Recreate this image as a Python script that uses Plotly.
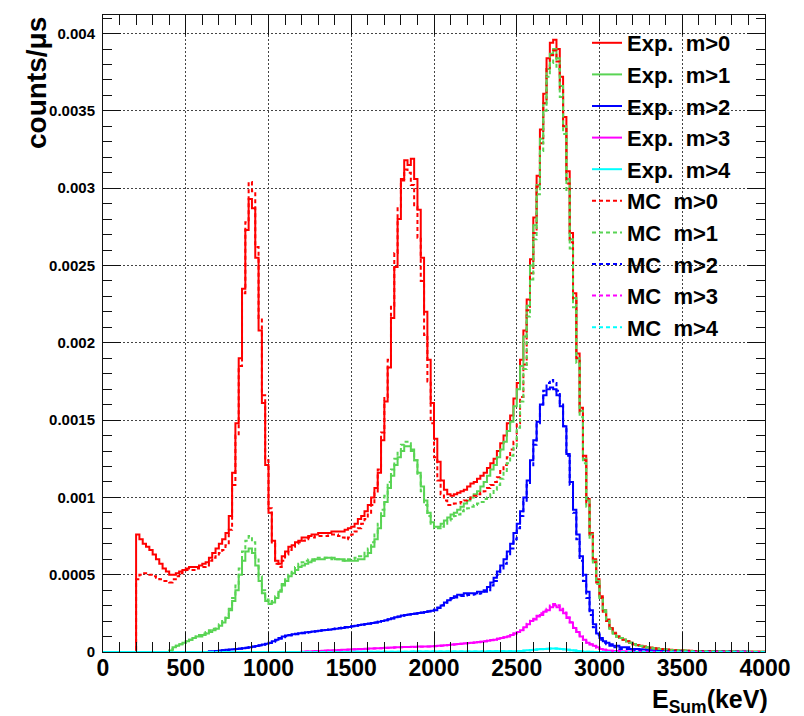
import plotly.graph_objects as go

# ---------------- data (counts/us per 20 keV bin, 0..4000 keV) ----------------
BIN_WIDTH_KEV = 20
N_BINS = 200

exp_m0 = [
    0, 0, 0, 0, 0, 0, 0, 0, 0, 0,
    0.00076, 0.00073, 0.00070, 0.00068, 0.00066, 0.00063, 0.00060, 0.00057, 0.00054, 0.00052,
    0.00050, 0.00050, 0.00051, 0.00052, 0.00053, 0.00054, 0.00055, 0.00055, 0.00055, 0.00056,
    0.00057, 0.00058, 0.00061, 0.00064, 0.00067, 0.00070, 0.00073, 0.00077, 0.00088, 0.00116,
    0.00148, 0.00190, 0.00235, 0.00273, 0.00293, 0.00287, 0.00255, 0.00208, 0.00161, 0.00121,
    0.00090, 0.00072, 0.00059, 0.00057, 0.00062, 0.00065, 0.00068, 0.00069, 0.00071, 0.00072,
    0.00074, 0.00074, 0.00075, 0.00076, 0.00076, 0.00077, 0.00077, 0.00077, 0.00077, 0.00078,
    0.00078, 0.00078, 0.00078, 0.00079, 0.00080, 0.00081, 0.00083, 0.00086, 0.00088, 0.00091,
    0.00095, 0.00100, 0.00106, 0.00116, 0.00137, 0.00162, 0.00184, 0.00216, 0.00249, 0.00280,
    0.00306, 0.00318, 0.00315, 0.00319, 0.00306, 0.00286, 0.00255, 0.00220, 0.00189, 0.00161,
    0.00138, 0.00123, 0.00111, 0.00105, 0.00102, 0.00101, 0.00102, 0.00103, 0.00104, 0.00105,
    0.00107, 0.00109, 0.00110, 0.00112, 0.00114, 0.00116, 0.00119, 0.00122, 0.00125, 0.00130,
    0.00135, 0.00140, 0.00148, 0.00153, 0.00164, 0.00174, 0.00189, 0.00208, 0.00228, 0.00254,
    0.00281, 0.00308, 0.00338, 0.00361, 0.00384, 0.00394, 0.00396, 0.00390, 0.00372, 0.00346,
    0.00311, 0.00271, 0.00232, 0.00193, 0.00158, 0.00127, 0.00099, 0.00077, 0.00060, 0.00047,
    0.00036, 0.00027, 0.00021, 0.000155, 0.000125, 0.00010, 0.00009, 0.00008, 0.00007, 0.00006,
    0.00005, 0.000045, 0.00004, 0.000035, 0.00003, 0.000028, 0.000025, 0.000022, 0.00002, 0.000018,
    0.000016, 0.000014, 0.000012, 0.000011, 0.00001, 0.000009, 0.000008, 0.000008, 0.000007, 0.000007,
    0.000006, 0.000006, 0.000005, 0.000005, 0.000005, 0.000004, 0.000004, 0.000004, 0.000003, 0.000003,
    0.000003, 0.000003, 0.000002, 0.000002, 0.000002, 0.000002, 0.000002, 0.000001, 0.000001, 0.000001,
]

exp_m1 = [
    0, 0, 0, 0, 0, 0, 0, 0, 0, 0,
    0, 0, 0, 0, 0, 0, 0, 0, 0, 0,
    0.00001, 0.00003, 0.00004, 0.00005, 0.00006, 0.00007, 0.00008, 0.00009, 0.00010, 0.00010,
    0.00011, 0.00012, 0.00013, 0.00014, 0.00015, 0.00017, 0.00019, 0.00022, 0.00027, 0.00033,
    0.00040, 0.00050, 0.00059, 0.00065, 0.00067, 0.00064, 0.00056, 0.00046, 0.00038, 0.00033,
    0.00031, 0.00032, 0.00035, 0.00039, 0.00043, 0.00046, 0.00049, 0.00051, 0.00053, 0.00055,
    0.00056, 0.00057, 0.00058, 0.00059, 0.00060, 0.00060, 0.00060, 0.00061, 0.00061, 0.00061,
    0.00060, 0.00060, 0.00060, 0.00059, 0.00059, 0.00059, 0.00059, 0.00060, 0.00060, 0.00062,
    0.00064, 0.00068, 0.00073, 0.00080, 0.00088, 0.00097, 0.00106, 0.00114, 0.00121, 0.00126,
    0.00130, 0.00133, 0.00133, 0.00130, 0.00124, 0.00116, 0.00107, 0.00098, 0.00090, 0.00084,
    0.00081, 0.00081, 0.00083, 0.00085, 0.00087, 0.00089, 0.00090, 0.00092, 0.00094, 0.00096,
    0.00098, 0.00100, 0.00102, 0.00104, 0.00107, 0.00110, 0.00114, 0.00118, 0.00121, 0.00126,
    0.00131, 0.00136, 0.00143, 0.00149, 0.00159, 0.00170, 0.00185, 0.00204, 0.00224, 0.00250,
    0.00276, 0.00302, 0.00332, 0.00355, 0.00377, 0.00387, 0.00390, 0.00384, 0.00366, 0.00340,
    0.00306, 0.00267, 0.00229, 0.00190, 0.00156, 0.00125, 0.00098, 0.00076, 0.00059, 0.00046,
    0.00035, 0.00027, 0.00020, 0.00015, 0.00012, 0.00010, 0.00009, 0.00008, 0.00007, 0.00006,
    0.00005, 0.000044, 0.000039, 0.000034, 0.00003, 0.000027, 0.000024, 0.000021, 0.000019, 0.000017,
    0.000015, 0.000013, 0.000012, 0.000011, 0.00001, 0.000009, 0.000008, 0.000007, 0.000007, 0.000006,
    0.000006, 0.000005, 0.000005, 0.000005, 0.000004, 0.000004, 0.000004, 0.000003, 0.000003, 0.000003,
    0.000003, 0.000002, 0.000002, 0.000002, 0.000002, 0.000002, 0.000001, 0.000001, 0.000001, 0.000001,
]

exp_m2 = [
    0, 0, 0, 0, 0, 0, 0, 0, 0, 0,
    0, 0, 0, 0, 0, 0, 0, 0, 0, 0,
    0, 0, 0, 0, 0, 0, 0, 0, 0, 0,
    0, 0, 0.000003, 0.000005, 0.000007, 0.00001, 0.000012, 0.000014, 0.000016, 0.000018,
    0.00002, 0.000022, 0.000025, 0.000028, 0.000031, 0.000035, 0.000039, 0.000043, 0.000048, 0.000053,
    0.00006, 0.00007, 0.00008, 0.00009, 0.0001, 0.000106, 0.00011, 0.000114, 0.000118, 0.000121,
    0.000124, 0.000127, 0.00013, 0.000133, 0.000135, 0.000138, 0.00014, 0.000142, 0.000144, 0.000147,
    0.00015, 0.000152, 0.000155, 0.000158, 0.000162, 0.000166, 0.00017, 0.000174, 0.000178, 0.000181,
    0.000184, 0.000187, 0.00019, 0.000195, 0.0002, 0.000206, 0.000212, 0.000218, 0.000224, 0.00023,
    0.000236, 0.00024, 0.000243, 0.000246, 0.000249, 0.000252, 0.000255, 0.000258, 0.000262, 0.000266,
    0.00027, 0.000285, 0.0003, 0.00032, 0.000335, 0.00035, 0.00036, 0.00037, 0.00037, 0.00038,
    0.00038, 0.00038, 0.00038, 0.00039, 0.00039, 0.0004, 0.00042, 0.00045, 0.00048, 0.00052,
    0.00056, 0.0006, 0.00065, 0.0007, 0.00077, 0.00083, 0.00091, 0.001, 0.00111, 0.00124,
    0.00137, 0.00149, 0.0016, 0.00166, 0.0017, 0.00171, 0.0017, 0.00166, 0.00159, 0.00146,
    0.00128, 0.0011, 0.00092, 0.00076, 0.00062, 0.0005, 0.00039, 0.00027, 0.00018, 0.00012,
    0.00009, 0.00007, 0.00006, 0.00005, 0.00004, 0.00004, 0.00003, 0.00003, 0.00003, 0.00002,
    0.00002, 0.00002, 0.000018, 0.000016, 0.000014, 0.000012, 0.00001, 0.000009, 0.000008, 0.000007,
    0.000006, 0.000006, 0.000005, 0.000005, 0.000004, 0.000004, 0.000004, 0.000003, 0.000003, 0.000003,
    0.000002, 0.000002, 0.000002, 0.000002, 0.000002, 0.000001, 0.000001, 0.000001, 0.000001, 0.000001,
    0.000001, 0.000001, 0.000001, 0.000001, 0.000001, 0, 0, 0, 0, 0,
]

exp_m3 = [
    0, 0, 0, 0, 0, 0, 0, 0, 0, 0,
    0, 0, 0, 0, 0, 0, 0, 0, 0, 0,
    0, 0, 0, 0, 0, 0, 0, 0, 0, 0,
    0, 0, 0, 0, 0, 0, 0, 0, 0, 0,
    0, 0, 0, 0, 0, 0, 0, 0, 0, 0,
    0, 0, 0, 0, 0, 0, 0, 0, 0, 0,
    0.000002, 0.000003, 0.000004, 0.000005, 0.000006, 0.000007, 0.000008, 0.000009, 0.00001, 0.000011,
    0.000012, 0.000013, 0.000014, 0.000015, 0.000016, 0.000017, 0.000018, 0.000019, 0.00002, 0.000021,
    0.000022, 0.000023, 0.000024, 0.000025, 0.000026, 0.000027, 0.000028, 0.000029, 0.00003, 0.000031,
    0.000032, 0.000033, 0.000033, 0.000034, 0.000034, 0.000035, 0.000035, 0.000036, 0.000036, 0.000037,
    0.000038, 0.00004, 0.000042, 0.000044, 0.000046, 0.000048, 0.00005, 0.000052, 0.000054, 0.000056,
    0.000058, 0.00006, 0.000062, 0.000064, 0.000067, 0.00007, 0.000073, 0.000077, 0.00008, 0.000085,
    0.00009, 0.000095, 0.0001, 0.00011, 0.00012, 0.00013, 0.00014, 0.00016, 0.00018, 0.0002,
    0.00021, 0.00023, 0.00024, 0.00026, 0.00027, 0.00029, 0.0003, 0.00029, 0.00027, 0.00025,
    0.00022, 0.00019, 0.000155, 0.00013, 0.0001, 0.00008, 0.00006, 0.00005, 0.00004, 0.00003,
    0.00002, 0.000015, 0.00001, 0.000008, 0.000007, 0.000006, 0.000005, 0.000004, 0.000003, 0.000003,
    0.000002, 0.000002, 0.000002, 0.000001, 0.000001, 0.000001, 0.000001, 0, 0, 0,
    0, 0, 0, 0, 0, 0, 0, 0, 0, 0,
    0, 0, 0, 0, 0, 0, 0, 0, 0, 0,
    0, 0, 0, 0, 0, 0, 0, 0, 0, 0,
]

exp_m4 = [
    0, 0, 0, 0, 0, 0, 0, 0, 0, 0,
    0, 0, 0, 0, 0, 0, 0, 0, 0, 0,
    0, 0, 0, 0, 0, 0, 0, 0, 0, 0,
    0, 0, 0, 0, 0, 0, 0, 0, 0, 0,
    0, 0, 0, 0, 0, 0, 0, 0, 0, 0,
    0, 0, 0, 0, 0, 0, 0, 0, 0, 0,
    0, 0, 0, 0, 0, 0, 0, 0, 0, 0,
    0, 0, 0, 0, 0, 0.000001, 0.000001, 0.000001, 0.000001, 0.000001,
    0.000001, 0.000001, 0.000002, 0.000002, 0.000002, 0.000002, 0.000002, 0.000002, 0.000002, 0.000002,
    0.000002, 0.000002, 0.000002, 0.000003, 0.000003, 0.000003, 0.000003, 0.000003, 0.000003, 0.000003,
    0.000003, 0.000003, 0.000003, 0.000003, 0.000003, 0.000003, 0.000004, 0.000004, 0.000004, 0.000004,
    0.000004, 0.000004, 0.000004, 0.000004, 0.000004, 0.000004, 0.000005, 0.000005, 0.000005, 0.000005,
    0.000005, 0.000005, 0.000005, 0.000005, 0.000005, 0.000005, 0.000007, 0.000009, 0.000011, 0.000013,
    0.000015, 0.000017, 0.000019, 0.00002, 0.000021, 0.000022, 0.000022, 0.000021, 0.00002, 0.000018,
    0.000015, 0.000012, 0.000009, 0.000006, 0.000004, 0.000002, 0.000001, 0.000001, 0, 0,
    0, 0, 0, 0, 0, 0, 0, 0, 0, 0,
    0, 0, 0, 0, 0, 0, 0, 0, 0, 0,
    0, 0, 0, 0, 0, 0, 0, 0, 0, 0,
    0, 0, 0, 0, 0, 0, 0, 0, 0, 0,
    0, 0, 0, 0, 0, 0, 0, 0, 0, 0,
]

mc_m0 = [
    0, 0, 0, 0, 0, 0, 0, 0, 0, 0,
    0.00047, 0.00050, 0.00051, 0.00051, 0.00050, 0.00049, 0.00048, 0.00047, 0.00046, 0.00046,
    0.00045, 0.00047, 0.00049, 0.00051, 0.00052, 0.00053, 0.00053, 0.00053, 0.00054, 0.00055,
    0.00055, 0.00056, 0.00059, 0.00061, 0.00062, 0.00064, 0.00066, 0.00069, 0.00079, 0.00108,
    0.00140, 0.00185, 0.00232, 0.00278, 0.00304, 0.00298, 0.00262, 0.00216, 0.00166, 0.00124,
    0.00093, 0.00070, 0.00057, 0.00055, 0.00059, 0.00063, 0.00066, 0.00068, 0.00070, 0.00071,
    0.00072, 0.00073, 0.00074, 0.00074, 0.00075, 0.00075, 0.00075, 0.00075, 0.00076, 0.00076,
    0.00076, 0.00075, 0.00074, 0.00073, 0.00074, 0.00076, 0.00078, 0.00080, 0.00083, 0.00086,
    0.00090, 0.00095, 0.00103, 0.00118, 0.00142, 0.00165, 0.00189, 0.00224, 0.00258, 0.00288,
    0.00305, 0.00312, 0.00310, 0.00302, 0.00288, 0.00268, 0.00240, 0.00205, 0.00175, 0.00148,
    0.00126, 0.00111, 0.00102, 0.00098, 0.00095, 0.00095, 0.00096, 0.00096, 0.00097, 0.00098,
    0.00099, 0.00100, 0.00101, 0.00102, 0.00103, 0.00104, 0.00106, 0.00108, 0.00110, 0.00113,
    0.00117, 0.00121, 0.00126, 0.00131, 0.00136, 0.00148, 0.00165, 0.00186, 0.00221, 0.00245,
    0.00271, 0.00301, 0.00329, 0.00355, 0.00377, 0.00386, 0.00389, 0.00382, 0.00364, 0.00340,
    0.00303, 0.00265, 0.00227, 0.00190, 0.00155, 0.00124, 0.00096, 0.00075, 0.00058, 0.00045,
    0.00035, 0.00026, 0.00020, 0.00015, 0.00012, 0.00010, 0.00009, 0.00008, 0.00007, 0.00006,
    0.00005, 0.000044, 0.000039, 0.000034, 0.00003, 0.000027, 0.000024, 0.000021, 0.000019, 0.000017,
    0.000015, 0.000013, 0.000012, 0.000011, 0.00001, 0.000009, 0.000008, 0.000007, 0.000007, 0.000006,
    0.000006, 0.000005, 0.000005, 0.000005, 0.000004, 0.000004, 0.000004, 0.000003, 0.000003, 0.000003,
    0.000003, 0.000002, 0.000002, 0.000002, 0.000002, 0.000002, 0.000001, 0.000001, 0.000001, 0.000001,
]

mc_m1 = [
    0, 0, 0, 0, 0, 0, 0, 0, 0, 0,
    0, 0, 0, 0, 0, 0, 0, 0, 0, 0,
    0.00001, 0.00002, 0.00004, 0.00005, 0.00006, 0.00007, 0.00008, 0.00009, 0.00010, 0.00011,
    0.00012, 0.00013, 0.00014, 0.00015, 0.00016, 0.00018, 0.00020, 0.00023, 0.00028, 0.00035,
    0.00043, 0.00054, 0.00065, 0.00072, 0.00075, 0.00071, 0.00061, 0.00049, 0.00040, 0.00034,
    0.00032, 0.00033, 0.00036, 0.00040, 0.00044, 0.00047, 0.00050, 0.00053, 0.00055, 0.00057,
    0.00058, 0.00059, 0.00060, 0.00060, 0.00061, 0.00061, 0.00061, 0.00061, 0.00061, 0.00060,
    0.00060, 0.00060, 0.00059, 0.00059, 0.00060, 0.00060, 0.00061, 0.00062, 0.00063, 0.00065,
    0.00067, 0.00071, 0.00076, 0.00083, 0.00092, 0.00101, 0.00110, 0.00118, 0.00125, 0.00130,
    0.00134, 0.00136, 0.00135, 0.00131, 0.00124, 0.00114, 0.00104, 0.00095, 0.00088, 0.00083,
    0.00080, 0.00080, 0.00081, 0.00083, 0.00085, 0.00086, 0.00088, 0.00089, 0.00091, 0.00092,
    0.00093, 0.00094, 0.00095, 0.00096, 0.00097, 0.00099, 0.00100, 0.00102, 0.00105, 0.00108,
    0.00112, 0.00117, 0.00122, 0.00127, 0.00133, 0.00145, 0.00162, 0.00183, 0.00217, 0.00241,
    0.00267, 0.00296, 0.00324, 0.00350, 0.00372, 0.00381, 0.00384, 0.00377, 0.00359, 0.00335,
    0.00298, 0.00261, 0.00223, 0.00187, 0.00152, 0.00122, 0.00094, 0.00073, 0.00057, 0.00044,
    0.00034, 0.00026, 0.00020, 0.00015, 0.00012, 0.00010, 0.00009, 0.00008, 0.00007, 0.00006,
    0.00005, 0.000043, 0.000038, 0.000033, 0.000029, 0.000026, 0.000023, 0.000021, 0.000019, 0.000017,
    0.000015, 0.000013, 0.000012, 0.000011, 0.00001, 0.000009, 0.000008, 0.000007, 0.000007, 0.000006,
    0.000006, 0.000005, 0.000005, 0.000005, 0.000004, 0.000004, 0.000004, 0.000003, 0.000003, 0.000003,
    0.000003, 0.000002, 0.000002, 0.000002, 0.000002, 0.000002, 0.000001, 0.000001, 0.000001, 0.000001,
]

mc_m2 = [
    0, 0, 0, 0, 0, 0, 0, 0, 0, 0,
    0, 0, 0, 0, 0, 0, 0, 0, 0, 0,
    0, 0, 0, 0, 0, 0, 0, 0, 0, 0,
    0, 0, 0.000003, 0.000005, 0.000007, 0.000009, 0.000011, 0.000013, 0.000015, 0.000017,
    0.000019, 0.000021, 0.000024, 0.000027, 0.00003, 0.000034, 0.000038, 0.000042, 0.000047, 0.000052,
    0.000058, 0.000066, 0.000075, 0.000085, 0.000095, 0.000102, 0.000107, 0.000111, 0.000115, 0.000119,
    0.000122, 0.000125, 0.000128, 0.000131, 0.000134, 0.000137, 0.00014, 0.000143, 0.000146, 0.000149,
    0.000152, 0.000155, 0.000158, 0.000161, 0.000164, 0.000167, 0.00017, 0.000173, 0.000176, 0.000179,
    0.000182, 0.000186, 0.00019, 0.000195, 0.0002, 0.000205, 0.00021, 0.000216, 0.000222, 0.000228,
    0.000234, 0.000238, 0.000242, 0.000245, 0.000248, 0.000251, 0.000254, 0.000258, 0.000263, 0.000268,
    0.000275, 0.000288, 0.000302, 0.000318, 0.000332, 0.000345, 0.000352, 0.000358, 0.000362, 0.000365,
    0.000368, 0.00037, 0.000373, 0.000377, 0.00038, 0.00039, 0.0004, 0.00043, 0.00046, 0.0005,
    0.00053, 0.00057, 0.00062, 0.00067, 0.00073, 0.0008, 0.00088, 0.00097, 0.00108, 0.0012,
    0.00134, 0.00148, 0.0016, 0.00169, 0.00174, 0.00176, 0.00174, 0.00169, 0.0016, 0.00146,
    0.00127, 0.00108, 0.0009, 0.00073, 0.00059, 0.00046, 0.00035, 0.00024, 0.00016, 0.00011,
    0.00008, 0.00006, 0.00005, 0.00004, 0.00003, 0.00003, 0.00002, 0.00002, 0.00002, 0.000015,
    0.000012, 0.00001, 0.000009, 0.000008, 0.000007, 0.000006, 0.000006, 0.000005, 0.000005, 0.000004,
    0.000004, 0.000004, 0.000003, 0.000003, 0.000003, 0.000003, 0.000002, 0.000002, 0.000002, 0.000002,
    0.000002, 0.000002, 0.000001, 0.000001, 0.000001, 0.000001, 0.000001, 0.000001, 0.000001, 0.000001,
    0.000001, 0.000001, 0.000001, 0.000001, 0, 0, 0, 0, 0, 0,
]

mc_m3 = [
    0, 0, 0, 0, 0, 0, 0, 0, 0, 0,
    0, 0, 0, 0, 0, 0, 0, 0, 0, 0,
    0, 0, 0, 0, 0, 0, 0, 0, 0, 0,
    0, 0, 0, 0, 0, 0, 0, 0, 0, 0,
    0, 0, 0, 0, 0, 0, 0, 0, 0, 0,
    0, 0, 0, 0, 0, 0, 0, 0, 0, 0,
    0.000002, 0.000003, 0.000004, 0.000004, 0.000005, 0.000006, 0.000007, 0.000008, 0.000009, 0.00001,
    0.000011, 0.000012, 0.000013, 0.000014, 0.000015, 0.000016, 0.000017, 0.000018, 0.000019, 0.00002,
    0.000021, 0.000022, 0.000023, 0.000024, 0.000025, 0.000026, 0.000027, 0.000028, 0.000029, 0.00003,
    0.000031, 0.000032, 0.000032, 0.000033, 0.000033, 0.000034, 0.000034, 0.000035, 0.000035, 0.000036,
    0.000037, 0.000039, 0.000041, 0.000043, 0.000045, 0.000047, 0.000049, 0.000051, 0.000053, 0.000055,
    0.000057, 0.000059, 0.000061, 0.000063, 0.000066, 0.000069, 0.000072, 0.000076, 0.00008, 0.000085,
    0.00009, 0.000096, 0.000102, 0.00011, 0.00012, 0.00013, 0.000142, 0.000162, 0.000182, 0.000202,
    0.000215, 0.000235, 0.00025, 0.000268, 0.00028, 0.0003, 0.00031, 0.000302, 0.00028, 0.000256,
    0.000225, 0.000192, 0.000158, 0.00013, 0.0001, 0.00008, 0.00006, 0.000048, 0.000038, 0.000028,
    0.00002, 0.000014, 0.00001, 0.000008, 0.000007, 0.000006, 0.000005, 0.000004, 0.000003, 0.000003,
    0.000002, 0.000002, 0.000002, 0.000001, 0.000001, 0.000001, 0.000001, 0, 0, 0,
    0, 0, 0, 0, 0, 0, 0, 0, 0, 0,
    0, 0, 0, 0, 0, 0, 0, 0, 0, 0,
    0, 0, 0, 0, 0, 0, 0, 0, 0, 0,
]

mc_m4 = [
    0, 0, 0, 0, 0, 0, 0, 0, 0, 0,
    0, 0, 0, 0, 0, 0, 0, 0, 0, 0,
    0, 0, 0, 0, 0, 0, 0, 0, 0, 0,
    0, 0, 0, 0, 0, 0, 0, 0, 0, 0,
    0, 0, 0, 0, 0, 0, 0, 0, 0, 0,
    0, 0, 0, 0, 0, 0, 0, 0, 0, 0,
    0, 0, 0, 0, 0, 0, 0, 0, 0, 0,
    0, 0, 0, 0, 0, 0.000001, 0.000001, 0.000001, 0.000001, 0.000001,
    0.000001, 0.000001, 0.000001, 0.000002, 0.000002, 0.000002, 0.000002, 0.000002, 0.000002, 0.000002,
    0.000002, 0.000002, 0.000002, 0.000002, 0.000003, 0.000003, 0.000003, 0.000003, 0.000003, 0.000003,
    0.000003, 0.000003, 0.000003, 0.000003, 0.000003, 0.000003, 0.000003, 0.000004, 0.000004, 0.000004,
    0.000004, 0.000004, 0.000004, 0.000004, 0.000004, 0.000004, 0.000004, 0.000005, 0.000005, 0.000005,
    0.000005, 0.000005, 0.000005, 0.000005, 0.000005, 0.000005, 0.000006, 0.000008, 0.00001, 0.000012,
    0.000014, 0.000016, 0.000018, 0.00002, 0.000021, 0.000022, 0.000023, 0.000022, 0.00002, 0.000018,
    0.000015, 0.000012, 0.000009, 0.000006, 0.000004, 0.000002, 0.000001, 0.000001, 0, 0,
    0, 0, 0, 0, 0, 0, 0, 0, 0, 0,
    0, 0, 0, 0, 0, 0, 0, 0, 0, 0,
    0, 0, 0, 0, 0, 0, 0, 0, 0, 0,
    0, 0, 0, 0, 0, 0, 0, 0, 0, 0,
    0, 0, 0, 0, 0, 0, 0, 0, 0, 0,
]

series_names = ["Exp.\u00a0\u00a0m>0", "Exp.\u00a0\u00a0m>1", "Exp.\u00a0\u00a0m>2",
                "Exp.\u00a0\u00a0m>3", "Exp.\u00a0\u00a0m>4",
                "MC\u00a0\u00a0m>0", "MC\u00a0\u00a0m>1", "MC\u00a0\u00a0m>2",
                "MC\u00a0\u00a0m>3", "MC\u00a0\u00a0m>4"]
series_values = [exp_m0, exp_m1, exp_m2, exp_m3, exp_m4,
                 mc_m0, mc_m1, mc_m2, mc_m3, mc_m4]

x_tick_vals = [0, 500, 1000, 1500, 2000, 2500, 3000, 3500, 4000]
x_tick_text = ["0", "500", "1000", "1500", "2000", "2500", "3000", "3500", "4000"]
y_tick_vals = [0, 0.0005, 0.001, 0.0015, 0.002, 0.0025, 0.003, 0.0035, 0.004]
y_tick_text = ["0", "0.0005", "0.001", "0.0015", "0.002", "0.0025", "0.003", "0.0035", "0.004"]

# ---------------- styling ----------------
COLORS = ["#ff0000", "#59d454", "#0000ff", "#ff00ff", "#00ffff"]
FONT = "Liberation Sans, Arial, Helvetica, sans-serif"

# the page body adds an 8 px offset, so the figure is 8 px smaller than the window
W, H = 796, 708
ML, MR, MT, MB = 95, 39, 7, 64
PW = W - ML - MR
PH = H - MT - MB
BOTTOM = H - MB

edges = [BIN_WIDTH_KEV * i for i in range(N_BINS + 1)]

fig = go.Figure()
for k, (name, vals) in enumerate(zip(series_names, series_values)):
    color = COLORS[k % 5]
    is_mc = k >= 5
    fig.add_trace(go.Scatter(
        x=edges,
        y=list(vals) + [vals[-1]],
        mode="lines",
        line=dict(shape="hv", color=color, width=2,
                  dash="4px,3px" if is_mc else "solid"),
        name=name,
        hoverinfo="skip",
    ))

axis_common = dict(
    showline=True, linecolor="#111", linewidth=1,
    mirror="allticks", ticks="inside", tickcolor="#111", tickwidth=1,
    showgrid=True, gridcolor="#444", gridwidth=1, griddash="2px,2px",
    zeroline=False,
)

fig.update_layout(
    width=W, height=H,
    margin=dict(l=ML, r=MR, t=MT, b=MB, autoexpand=False),
    paper_bgcolor="white", plot_bgcolor="white",
    font=dict(family=FONT, color="black"),
    showlegend=True,
    legend=dict(
        x=(579 - ML) / PW, xanchor="left",
        y=(BOTTOM - 14) / PH, yanchor="top",
        bgcolor="rgba(0,0,0,0)", borderwidth=0,
        font=dict(family=FONT, size=22, color="black", weight="bold"),
        itemwidth=30, tracegroupgap=0,
    ),
    xaxis=dict(
        range=[0, 4000], tickmode="array", tickvals=x_tick_vals, ticktext=x_tick_text,
        ticklen=20, ticklabelstandoff=-5,
        tickfont=dict(family=FONT, size=23, color="black", weight="bold"),
        minor=dict(dtick=100, tick0=0, ticks="inside", ticklen=10, tickcolor="#111", showgrid=False),
        **axis_common,
    ),
    yaxis=dict(
        range=[0, 0.00412], tickmode="array", tickvals=y_tick_vals, ticktext=y_tick_text,
        ticklen=18, ticklabelstandoff=4,
        tickfont=dict(family=FONT, size=15, color="black", weight="bold"),
        minor=dict(dtick=0.0001, tick0=0, ticks="inside", ticklen=9, tickcolor="#111", showgrid=False),
        **axis_common,
    ),
    annotations=[
        dict(text="counts/\u03bcs", textangle=-90, showarrow=False,
             xref="paper", yref="paper",
             x=(28 - ML) / PW, y=(BOTTOM - 75) / PH,
             xanchor="center", yanchor="middle",
             font=dict(family=FONT, size=28, color="black", weight="bold")),
        dict(text="E<sub>Sum</sub>(keV)", showarrow=False,
             xref="paper", yref="paper",
             x=(762 - ML) / PW, y=(BOTTOM - 693) / PH,
             xanchor="right", yanchor="middle",
             font=dict(family=FONT, size=25, color="black", weight="bold")),
    ],
)

fig.write_html("out.html")
